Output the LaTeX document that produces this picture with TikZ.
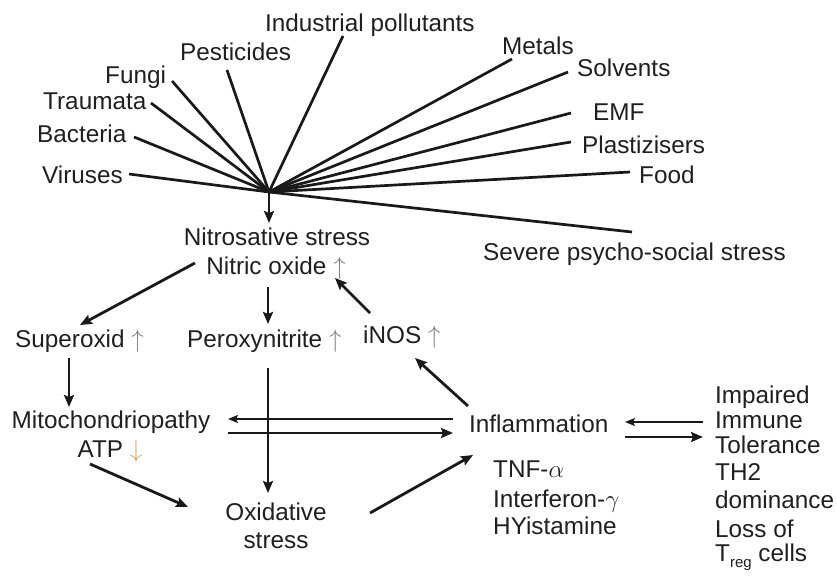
\documentclass[tikz,border=0pt]{standalone}
\usepackage{fontspec}
\setmainfont{Liberation Sans}
\usetikzlibrary{arrows.meta}
\newcommand\upar{{\color{black!50}$\uparrow$}}
\newcommand\dnar{{\color[HTML]{D9A56E}$\downarrow$}}
\begin{document}
\begin{tikzpicture}[x=1pt,y=-1pt,
  lbl/.style={inner sep=0pt, font=\fontsize{24.3}{26}\selectfont, text=black!88},
  arr/.style={line width=2.8pt, draw=black!90, -{Stealth[length=12pt,width=10pt,inset=2pt]}},
  thinarr/.style={line width=1.7pt, draw=black!90, -{Stealth[length=10pt,width=8pt,inset=2pt]}},
  ray/.style={line width=2.7pt, draw=black!90}]
\useasboundingbox (0,0) rectangle (837,578);

% source labels
\node[lbl,anchor=base west] (ind) at (265,32) {Industrial pollutants};
\node[lbl,anchor=base west] (pes) at (180,60) {Pesticides};
\node[lbl,anchor=base west] (fun) at (105,83) {Fungi};
\node[lbl,anchor=base west] (tra) at (43,109) {Traumata};
\node[lbl,anchor=base west] (bac) at (37,142) {Bacteria};
\node[lbl,anchor=base west] (vir) at (42,183) {Viruses};
\node[lbl,anchor=base west] (met) at (502,55) {Metals};
\node[lbl,anchor=base west] (sol) at (577,77) {Solvents};
\node[lbl,anchor=base west] (emf) at (593,120) {EMF};
\node[lbl,anchor=base west] (pla) at (582,153) {Plastizisers};
\node[lbl,anchor=base west] (foo) at (639,183) {Food};
\node[lbl,anchor=base west] (sev) at (483,260) {Severe psycho-social stress};

% ray ends
\coordinate (hub) at (269,192);
\coordinate (rind) at (343,36);
\coordinate (rpes) at (227,70);
\coordinate (rfun) at (172,81);
\coordinate (rtra) at (151,103);
\coordinate (rbac) at (134,137);
\coordinate (rvir) at (129,174);
\coordinate (rmet) at (512,59);
\coordinate (rsol) at (568,72);
\coordinate (remf) at (571,113);
\coordinate (rpla) at (571,142);
\coordinate (rfoo) at (630,172);
\coordinate (rsev) at (632,232);
\foreach \r in {rind,rpes,rfun,rtra,rbac,rvir,rmet,rsol,remf,rpla,rfoo,rsev}
  \draw[ray] (hub) -- (\r);

% main nodes
\node[lbl,anchor=base] (nit1) at (277,245) {Nitrosative stress};
\node[lbl,anchor=base] (nit2) at (276,274) {Nitric oxide \upar};
\node[lbl,anchor=base west] (sup) at (15,347) {Superoxid \upar};
\node[lbl,anchor=base west] (per) at (187,347) {Peroxynitrite \upar};
\node[lbl,anchor=base west] (inos) at (363,343) {iNOS \upar};
\node[lbl,anchor=base] (mit1) at (111,428) {Mitochondriopathy};
\node[lbl,anchor=base] (mit2) at (110,457) {ATP \dnar};
\node[lbl,anchor=base west] (inf) at (469,432) {Inflammation};
\node[lbl,anchor=base west] (tnf) at (493,477) {TNF-$\alpha$};
\node[lbl,anchor=base west] (ifn) at (493,507) {Interferon-$\gamma$};
\node[lbl,anchor=base west] (his) at (493,534) {HYistamine};
\node[lbl,anchor=base] (ox1) at (276,520) {Oxidative};
\node[lbl,anchor=base] (ox2) at (276,548) {stress};
\node[lbl,anchor=base west] (im1) at (715,403) {Impaired};
\node[lbl,anchor=base west] (im2) at (715,428) {Immune};
\node[lbl,anchor=base west] (im3) at (715,453) {Tolerance};
\node[lbl,anchor=base west] (im4) at (715,480) {TH2};
\node[lbl,anchor=base west] (im5) at (715,508) {dominance};
\node[lbl,anchor=base west] (im6) at (715,537) {Loss of};
\node[lbl,anchor=base west] (im7) at (715,561) {T{\fontsize{15}{15}\selectfont\raisebox{-6pt}{reg}} cells};

% arrow end points
\coordinate (hubend) at (269,223);
\coordinate (a1s) at (195,263); \coordinate (a1e) at (80,325);
\coordinate (a2s) at (268,287); \coordinate (a2e) at (268,324);
\coordinate (a3s) at (370,313); \coordinate (a3e) at (335,278);
\coordinate (a4s) at (69,358);  \coordinate (a4e) at (69,407);
\coordinate (a5s) at (268,368); \coordinate (a5e) at (268,493);
\coordinate (a6s) at (468,406); \coordinate (a6e) at (415,358);
\coordinate (a7s) at (453,419); \coordinate (a7e) at (228,419);
\coordinate (a8s) at (228,433); \coordinate (a8e) at (453,433);
\coordinate (a9s) at (90,464);  \coordinate (a9e) at (188,507);
\coordinate (b1s) at (370,513); \coordinate (b1e) at (473,455);
\coordinate (b2s) at (703,422); \coordinate (b2e) at (625,422);
\coordinate (b3s) at (625,437); \coordinate (b3e) at (703,437);

\draw[arr] (hub) -- (hubend);
\draw[arr] (a1s) -- (a1e);
\draw[arr] (a2s) -- (a2e);
\draw[arr] (a3s) -- (a3e);
\draw[arr] (a4s) -- (a4e);
\draw[arr] (a5s) -- (a5e);
\draw[arr] (a6s) -- (a6e);
\draw[thinarr] (a7s) -- (a7e);
\draw[arr] (a8s) -- (a8e);
\draw[arr] (a9s) -- (a9e);
\draw[arr] (b1s) -- (b1e);
\draw[thinarr] (b2s) -- (b2e);
\draw[arr] (b3s) -- (b3e);
\end{tikzpicture}
\end{document}
